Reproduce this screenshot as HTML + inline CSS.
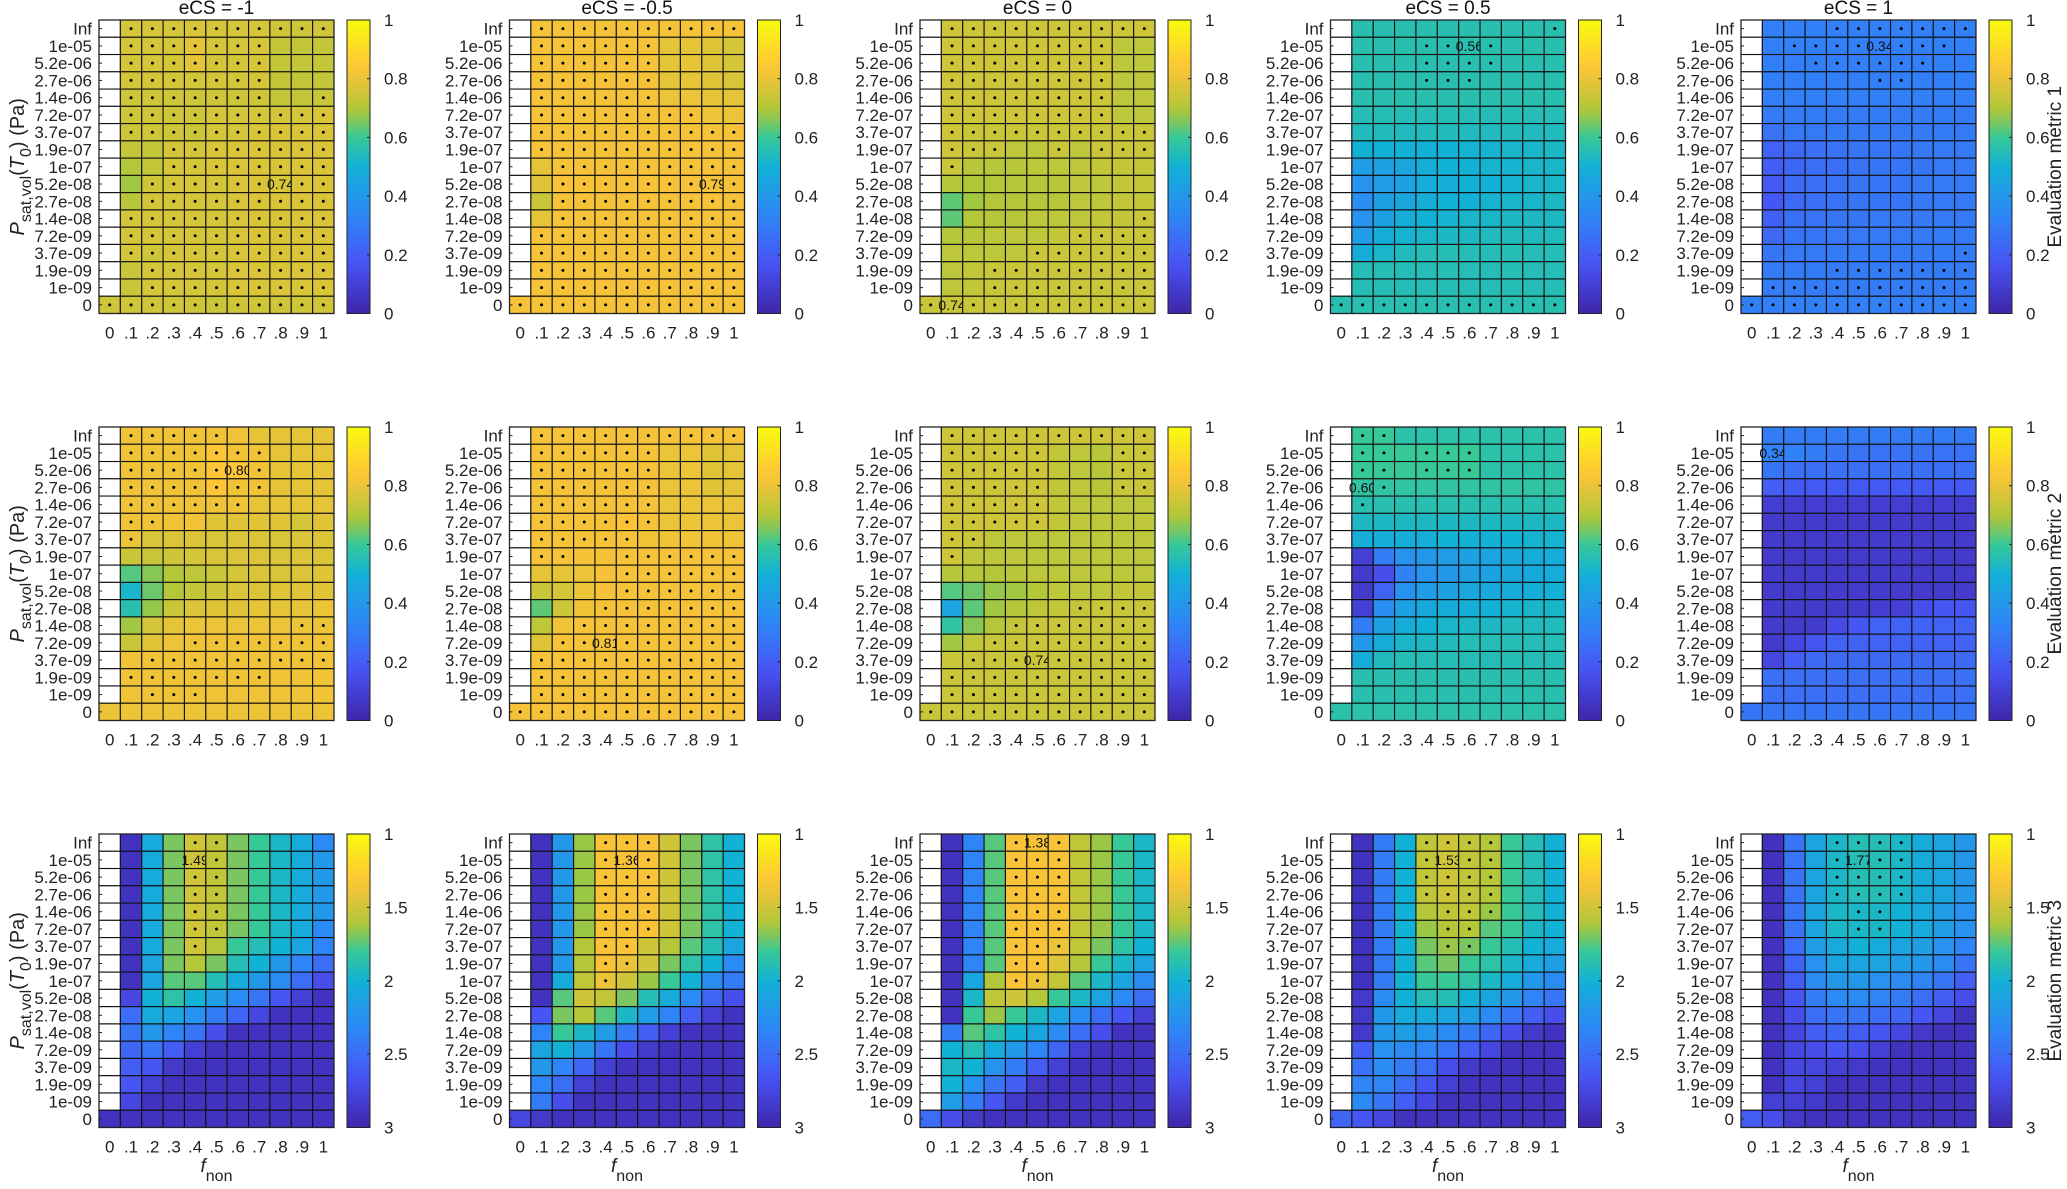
<!DOCTYPE html>
<html><head><meta charset="utf-8"><style>
html,body{margin:0;padding:0;background:#fff;}
svg{display:block;font-family:"Liberation Sans",sans-serif;}
</style></head><body>
<svg id="fig" width="2067" height="1189" viewBox="0 0 2067 1189" xmlns="http://www.w3.org/2000/svg"></svg>
<script>
const n=null;
const rowLabels=["Inf","1e-05","5.2e-06","2.7e-06","1.4e-06","7.2e-07","3.7e-07","1.9e-07","1e-07","5.2e-08","2.7e-08","1.4e-08","7.2e-09","3.7e-09","1.9e-09","1e-09","0"];
const colLabels=["0",".1",".2",".3",".4",".5",".6",".7",".8",".9","1"];
const titles=["eCS = -1","eCS = -0.5","eCS = 0","eCS = 0.5","eCS = 1"];
const metricNames=["Evaluation metric 1","Evaluation metric 2","Evaluation metric 3"];
const cbTicks12=[0,0.2,0.4,0.6,0.8,1];
const cbTicks3=[1,1.5,2,2.5,3];

const v11=[[n,.76,.76,.76,.77,.76,.76,.76,.75,.75,.75],[n,.76,.76,.76,.79,.76,.76,.76,.73,.73,.73],[n,.76,.76,.76,.79,.76,.76,.76,.73,.73,.73],[n,.76,.76,.76,.76,.76,.76,.76,.73,.73,.73],[n,.75,.75,.75,.75,.75,.75,.75,.73,.73,.74],[n,.75,.75,.75,.75,.76,.76,.76,.76,.76,.77],[n,.75,.75,.75,.74,.76,.76,.77,.77,.77,.77],[n,.73,.73,.76,.76,.77,.77,.77,.77,.77,.77],[n,.70,.73,.76,.76,.77,.77,.77,.77,.77,.77],[n,.68,.75,.76,.76,.76,.77,.77,.77,.77,.77],[n,.71,.76,.76,.76,.76,.77,.77,.77,.77,.77],[n,.76,.76,.76,.76,.76,.77,.77,.77,.77,.77],[n,.76,.76,.76,.76,.76,.77,.77,.77,.77,.77],[n,.76,.75,.76,.76,.76,.77,.77,.77,.77,.77],[n,.74,.76,.76,.76,.76,.77,.77,.77,.77,.77],[n,.74,.76,.76,.76,.76,.77,.77,.77,.77,.77],[.75,.75,.75,.75,.75,.74,.75,.75,.75,.75,.75]];
const v12=[[n,.82,.82,.82,.82,.82,.82,.82,.82,.82,.82],[n,.82,.82,.82,.82,.82,.82,.79,.79,.78,.76],[n,.82,.82,.82,.82,.82,.82,.79,.79,.78,.76],[n,.82,.82,.82,.82,.82,.82,.79,.79,.78,.77],[n,.82,.82,.82,.82,.82,.82,.80,.80,.79,.79],[n,.82,.82,.82,.82,.82,.82,.82,.82,.80,.80],[n,.82,.82,.82,.82,.82,.82,.82,.82,.82,.82],[n,.82,.82,.82,.82,.82,.82,.82,.82,.82,.82],[n,.79,.82,.82,.82,.82,.82,.82,.82,.82,.82],[n,.78,.82,.82,.82,.82,.82,.82,.82,.82,.82],[n,.74,.82,.82,.82,.82,.82,.82,.82,.82,.82],[n,.79,.82,.82,.82,.82,.82,.82,.82,.82,.82],[n,.82,.82,.82,.82,.82,.82,.82,.82,.82,.82],[n,.82,.82,.82,.82,.82,.82,.82,.82,.82,.82],[n,.82,.82,.82,.82,.82,.82,.82,.82,.82,.82],[n,.82,.82,.82,.82,.82,.82,.82,.82,.82,.82],[.82,.82,.82,.82,.82,.82,.82,.82,.82,.82,.82]];
const v13=[[n,.75,.75,.75,.75,.75,.75,.75,.75,.75,.75],[n,.75,.75,.75,.75,.75,.75,.75,.75,.72,.72],[n,.75,.75,.75,.75,.75,.75,.75,.75,.72,.72],[n,.75,.75,.75,.75,.75,.75,.75,.75,.72,.72],[n,.75,.75,.75,.75,.75,.75,.75,.75,.72,.72],[n,.75,.75,.75,.75,.75,.75,.75,.75,.72,.72],[n,.75,.74,.74,.74,.74,.74,.74,.74,.74,.74],[n,.75,.74,.74,.72,.72,.74,.72,.74,.74,.74],[n,.74,.71,.71,.71,.72,.72,.72,.73,.73,.73],[n,.70,.69,.70,.70,.71,.71,.72,.72,.73,.73],[n,.63,.68,.70,.70,.71,.71,.72,.72,.73,.73],[n,.63,.70,.71,.71,.72,.72,.72,.73,.73,.74],[n,.70,.71,.72,.72,.72,.73,.74,.74,.74,.74],[n,.72,.72,.72,.72,.74,.74,.74,.74,.74,.74],[n,.72,.73,.74,.74,.74,.74,.74,.74,.74,.74],[n,.72,.73,.74,.74,.74,.74,.74,.74,.74,.74],[.74,.74,.74,.74,.74,.74,.74,.74,.74,.74,.74]];
const v14=[[n,.56,.56,.56,.56,.56,.56,.56,.56,.56,.56],[n,.56,.56,.56,.56,.56,.56,.56,.56,.56,.56],[n,.56,.56,.56,.56,.56,.56,.56,.56,.56,.56],[n,.56,.56,.56,.56,.56,.56,.56,.56,.56,.56],[n,.56,.56,.56,.56,.56,.56,.56,.56,.56,.56],[n,.55,.55,.55,.55,.55,.55,.55,.55,.55,.55],[n,.54,.54,.54,.54,.54,.54,.54,.54,.54,.54],[n,.50,.50,.50,.50,.50,.51,.51,.52,.52,.53],[n,.42,.44,.46,.49,.50,.50,.51,.51,.52,.52],[n,.38,.42,.44,.48,.49,.50,.50,.51,.52,.52],[n,.36,.43,.46,.49,.50,.50,.51,.52,.52,.53],[n,.38,.44,.48,.50,.51,.52,.52,.53,.53,.53],[n,.42,.48,.51,.52,.53,.53,.54,.54,.54,.54],[n,.48,.52,.54,.55,.55,.55,.55,.55,.55,.55],[n,.55,.55,.55,.55,.55,.55,.55,.55,.55,.55],[n,.55,.55,.55,.55,.55,.55,.55,.55,.55,.55],[.56,.56,.56,.56,.56,.56,.56,.56,.56,.56,.56]];
const v15=[[n,.31,.31,.31,.31,.31,.31,.31,.31,.31,.31],[n,.31,.31,.31,.31,.31,.31,.31,.31,.31,.31],[n,.31,.31,.31,.31,.31,.31,.31,.31,.31,.31],[n,.31,.31,.31,.31,.31,.31,.31,.31,.31,.31],[n,.31,.31,.31,.31,.31,.31,.31,.31,.31,.31],[n,.30,.30,.30,.30,.30,.30,.30,.30,.30,.30],[n,.27,.29,.29,.30,.30,.30,.30,.30,.30,.30],[n,.22,.24,.26,.27,.28,.28,.28,.29,.29,.29],[n,.20,.23,.25,.26,.27,.28,.28,.28,.29,.29],[n,.19,.24,.25,.27,.28,.28,.28,.29,.29,.29],[n,.18,.24,.26,.27,.28,.28,.28,.29,.29,.29],[n,.21,.26,.27,.28,.28,.29,.29,.29,.29,.29],[n,.24,.28,.28,.29,.29,.29,.29,.30,.30,.30],[n,.28,.29,.29,.30,.30,.30,.30,.30,.30,.30],[n,.30,.30,.30,.30,.30,.30,.30,.30,.30,.30],[n,.30,.30,.30,.30,.30,.30,.30,.30,.30,.30],[.31,.31,.31,.31,.31,.31,.31,.31,.31,.31,.31]];

const v21=[[n,.81,.81,.81,.81,.81,.81,.79,.79,.79,.79],[n,.81,.81,.81,.81,.84,.81,.81,.79,.79,.79],[n,.81,.81,.81,.81,.84,.84,.81,.79,.79,.79],[n,.81,.81,.81,.81,.84,.81,.81,.79,.79,.79],[n,.81,.81,.81,.81,.81,.81,.79,.79,.79,.79],[n,.81,.81,.81,.81,.78,.78,.78,.78,.76,.78],[n,.80,.77,.77,.77,.77,.77,.77,.77,.77,.77],[n,.74,.74,.75,.76,.77,.77,.77,.77,.77,.77],[n,.62,.66,.70,.72,.74,.76,.77,.77,.77,.78],[n,.52,.64,.70,.73,.75,.77,.77,.78,.78,.78],[n,.56,.67,.74,.77,.78,.78,.79,.79,.79,.80],[n,.68,.76,.79,.80,.80,.80,.80,.80,.80,.80],[n,.74,.78,.80,.81,.81,.81,.81,.81,.81,.81],[n,.81,.81,.81,.81,.81,.81,.81,.81,.81,.81],[n,.81,.81,.81,.81,.81,.81,.81,.81,.81,.81],[n,.81,.81,.81,.81,.81,.81,.81,.81,.81,.81],[.80,.80,.80,.80,.80,.80,.80,.80,.80,.80,.80]];
const v22=[[n,.82,.82,.82,.82,.82,.82,.82,.82,.82,.82],[n,.82,.82,.82,.82,.82,.82,.80,.80,.78,.79],[n,.82,.82,.82,.82,.82,.82,.80,.80,.78,.79],[n,.82,.82,.82,.82,.82,.82,.80,.80,.78,.79],[n,.82,.82,.82,.82,.82,.82,.80,.80,.80,.80],[n,.82,.82,.82,.82,.83,.82,.80,.80,.80,.80],[n,.82,.82,.82,.82,.82,.81,.81,.81,.81,.81],[n,.82,.82,.82,.82,.82,.82,.82,.82,.82,.82],[n,.79,.79,.80,.82,.82,.82,.82,.82,.82,.82],[n,.74,.76,.80,.82,.82,.82,.82,.82,.82,.82],[n,.63,.75,.81,.82,.82,.82,.82,.82,.82,.82],[n,.72,.81,.82,.82,.82,.82,.82,.82,.82,.82],[n,.78,.82,.82,.82,.82,.82,.82,.82,.82,.82],[n,.82,.82,.82,.82,.82,.82,.82,.82,.82,.82],[n,.82,.82,.82,.82,.82,.82,.82,.82,.82,.82],[n,.82,.82,.82,.82,.82,.82,.82,.82,.82,.82],[.82,.82,.82,.82,.82,.82,.82,.82,.82,.82,.82]];
const v23=[[n,.75,.75,.75,.75,.75,.75,.75,.75,.75,.75],[n,.75,.75,.75,.75,.75,.73,.72,.71,.74,.74],[n,.75,.75,.75,.75,.75,.73,.72,.71,.74,.74],[n,.75,.75,.75,.75,.75,.73,.72,.71,.74,.74],[n,.75,.75,.75,.75,.75,.73,.72,.72,.72,.72],[n,.75,.75,.75,.75,.75,.73,.72,.72,.72,.72],[n,.75,.74,.72,.72,.72,.72,.72,.72,.72,.72],[n,.75,.72,.72,.72,.72,.72,.72,.72,.72,.72],[n,.70,.70,.70,.71,.72,.72,.72,.72,.72,.72],[n,.62,.64,.67,.68,.70,.72,.72,.72,.73,.73],[n,.45,.63,.68,.70,.72,.73,.73,.74,.74,.74],[n,.58,.66,.70,.73,.74,.74,.74,.74,.74,.74],[n,.68,.72,.74,.74,.74,.74,.74,.74,.74,.74],[n,.74,.74,.74,.74,.74,.74,.74,.74,.74,.74],[n,.74,.74,.74,.74,.74,.74,.74,.74,.74,.74],[n,.74,.74,.74,.74,.74,.74,.74,.74,.74,.74],[.74,.74,.74,.74,.74,.74,.74,.74,.74,.74,.74]];
const v24=[[n,.60,.60,.57,.57,.57,.57,.57,.57,.57,.57],[n,.60,.60,.60,.60,.60,.60,.57,.57,.57,.57],[n,.60,.60,.60,.60,.60,.60,.57,.57,.57,.57],[n,.58,.58,.58,.58,.58,.58,.58,.58,.58,.58],[n,.56,.56,.56,.56,.56,.56,.56,.56,.56,.56],[n,.53,.53,.53,.53,.53,.53,.53,.53,.53,.53],[n,.49,.49,.49,.49,.50,.50,.50,.50,.51,.51],[n,.10,.30,.38,.40,.42,.44,.45,.47,.48,.48],[n,.08,.15,.32,.38,.40,.43,.44,.46,.47,.48],[n,.08,.22,.38,.42,.44,.46,.47,.48,.49,.50],[n,.10,.36,.44,.47,.48,.49,.50,.51,.52,.52],[n,.30,.44,.48,.50,.52,.53,.53,.54,.54,.54],[n,.40,.48,.52,.53,.54,.55,.55,.55,.55,.55],[n,.48,.54,.55,.55,.55,.55,.55,.55,.55,.55],[n,.56,.56,.56,.56,.56,.56,.56,.56,.56,.56],[n,.56,.56,.56,.56,.56,.56,.56,.56,.56,.56],[.57,.57,.57,.57,.57,.57,.57,.57,.57,.57,.57]];
const v25=[[n,.30,.30,.30,.30,.30,.30,.30,.30,.30,.30],[n,.32,.32,.30,.28,.27,.27,.27,.27,.27,.27],[n,.28,.26,.26,.26,.26,.26,.26,.26,.26,.26],[n,.20,.19,.19,.19,.19,.19,.19,.19,.19,.19],[n,.09,.09,.09,.09,.09,.09,.09,.09,.09,.09],[n,.08,.08,.08,.08,.08,.08,.08,.08,.08,.08],[n,.08,.08,.08,.08,.08,.08,.08,.08,.08,.08],[n,.08,.08,.08,.08,.08,.08,.08,.08,.08,.08],[n,.08,.08,.08,.08,.08,.08,.08,.08,.08,.08],[n,.08,.08,.08,.08,.08,.08,.08,.08,.08,.08],[n,.08,.08,.08,.08,.08,.09,.10,.15,.18,.18],[n,.08,.08,.08,.14,.18,.22,.22,.22,.22,.22],[n,.08,.12,.18,.22,.22,.22,.22,.22,.22,.22],[n,.12,.20,.24,.24,.24,.24,.24,.24,.24,.24],[n,.26,.26,.26,.26,.26,.26,.26,.26,.26,.26],[n,.26,.26,.26,.26,.26,.26,.26,.26,.26,.26],[.28,.28,.28,.28,.28,.28,.28,.28,.28,.28,.28]];

const v31=[[n,2.9,2.05,1.7,1.5,1.55,1.7,1.8,1.95,2.05,2.3],[n,2.9,2.05,1.7,1.5,1.55,1.7,1.8,1.95,2.05,2.2],[n,2.9,2.05,1.7,1.5,1.55,1.7,1.8,1.95,2.05,2.2],[n,2.9,2.05,1.7,1.5,1.55,1.7,1.8,1.95,2.05,2.2],[n,2.9,2.05,1.7,1.5,1.55,1.7,1.8,1.95,2.05,2.2],[n,2.9,2.05,1.7,1.5,1.55,1.7,1.8,1.95,2.05,2.3],[n,2.9,2.05,1.7,1.5,1.6,1.8,1.9,2.0,2.1,2.35],[n,2.9,2.1,1.7,1.6,1.7,1.9,2.0,2.2,2.35,2.5],[n,2.9,2.1,1.75,1.75,1.9,2.05,2.2,2.3,2.5,2.7],[n,2.75,2.0,1.85,2.0,2.15,2.3,2.45,2.65,2.8,2.9],[n,2.5,2.05,2.1,2.25,2.4,2.55,2.75,2.9,2.9,2.9],[n,2.45,2.2,2.35,2.45,2.7,2.9,2.9,2.9,2.9,2.9],[n,2.55,2.45,2.6,2.8,2.9,2.9,2.9,2.9,2.9,2.9],[n,2.6,2.65,2.85,2.9,2.9,2.9,2.9,2.9,2.9,2.9],[n,2.65,2.8,2.9,2.9,2.9,2.9,2.9,2.9,2.9,2.9],[n,2.75,2.9,2.9,2.9,2.9,2.9,2.9,2.9,2.9,2.9],[2.9,2.9,2.9,2.9,2.9,2.9,2.9,2.9,2.9,2.9,2.9]];
const v32=[[n,2.9,2.2,1.65,1.35,1.35,1.35,1.5,1.7,1.85,2.0],[n,2.9,2.2,1.65,1.35,1.35,1.35,1.5,1.7,1.85,2.0],[n,2.9,2.2,1.65,1.35,1.35,1.35,1.5,1.7,1.85,2.0],[n,2.9,2.2,1.65,1.35,1.35,1.35,1.5,1.7,1.85,2.0],[n,2.9,2.2,1.65,1.35,1.35,1.35,1.5,1.7,1.85,2.0],[n,2.9,2.2,1.65,1.35,1.35,1.35,1.5,1.7,1.85,2.0],[n,2.9,2.2,1.6,1.35,1.35,1.5,1.6,1.75,1.9,2.1],[n,2.9,2.2,1.6,1.35,1.4,1.5,1.7,1.85,2.0,2.3],[n,2.9,2.05,1.55,1.4,1.5,1.65,1.8,2.0,2.3,2.4],[n,2.9,1.75,1.5,1.55,1.7,1.9,2.05,2.3,2.55,2.7],[n,2.65,1.7,1.6,1.75,1.95,2.15,2.35,2.6,2.8,2.9],[n,2.35,1.8,1.95,2.15,2.4,2.6,2.8,2.9,2.9,2.9],[n,2.1,2.0,2.2,2.45,2.7,2.85,2.9,2.9,2.9,2.9],[n,2.2,2.35,2.55,2.8,2.9,2.9,2.9,2.9,2.9,2.9],[n,2.35,2.5,2.8,2.9,2.9,2.9,2.9,2.9,2.9,2.9],[n,2.4,2.7,2.9,2.9,2.9,2.9,2.9,2.9,2.9,2.9],[2.75,2.85,2.9,2.9,2.9,2.9,2.9,2.9,2.9,2.9,2.9]];
const v33=[[n,2.9,2.35,1.75,1.35,1.35,1.35,1.55,1.65,1.8,1.95],[n,2.9,2.35,1.75,1.35,1.35,1.35,1.55,1.65,1.8,1.95],[n,2.9,2.35,1.75,1.35,1.35,1.35,1.55,1.65,1.8,1.95],[n,2.9,2.35,1.75,1.35,1.35,1.35,1.55,1.65,1.8,1.95],[n,2.9,2.35,1.75,1.35,1.35,1.35,1.55,1.65,1.8,1.95],[n,2.9,2.35,1.75,1.35,1.35,1.35,1.55,1.65,1.8,1.95],[n,2.9,2.35,1.75,1.35,1.35,1.4,1.55,1.7,1.85,2.0],[n,2.9,2.35,1.75,1.35,1.35,1.45,1.6,1.8,1.95,2.1],[n,2.9,2.1,1.6,1.35,1.4,1.55,1.75,1.95,2.1,2.3],[n,2.9,1.95,1.55,1.5,1.6,1.8,1.95,2.1,2.3,2.5],[n,2.9,1.8,1.65,1.8,1.95,2.1,2.3,2.5,2.65,2.8],[n,2.4,1.75,1.85,2.0,2.1,2.3,2.5,2.7,2.9,2.9],[n,2.0,1.9,2.05,2.2,2.35,2.55,2.8,2.9,2.9,2.9],[n,1.95,2.0,2.25,2.4,2.6,2.8,2.9,2.9,2.9,2.9],[n,2.0,2.25,2.45,2.6,2.85,2.9,2.9,2.9,2.9,2.9],[n,2.15,2.4,2.65,2.85,2.9,2.9,2.9,2.9,2.9,2.9],[2.5,2.7,2.85,2.9,2.9,2.9,2.9,2.9,2.9,2.9,2.9]];
const v34=[[n,2.9,2.4,2.0,1.55,1.5,1.55,1.6,1.8,1.9,2.0],[n,2.9,2.4,2.0,1.55,1.5,1.55,1.6,1.8,1.9,2.0],[n,2.9,2.4,2.0,1.55,1.5,1.55,1.6,1.8,1.9,2.0],[n,2.9,2.4,2.0,1.55,1.5,1.55,1.6,1.8,1.9,2.0],[n,2.9,2.4,2.0,1.6,1.55,1.55,1.65,1.8,1.9,2.0],[n,2.9,2.4,2.0,1.65,1.6,1.6,1.75,1.8,1.95,2.0],[n,2.9,2.4,2.0,1.7,1.65,1.7,1.8,1.9,2.0,2.05],[n,2.9,2.4,2.0,1.75,1.7,1.8,1.85,1.95,2.05,2.15],[n,2.9,2.4,2.0,1.8,1.8,1.85,1.95,2.05,2.2,2.3],[n,2.85,2.3,2.0,1.9,1.9,2.0,2.1,2.2,2.35,2.45],[n,2.85,2.2,2.05,2.05,2.1,2.15,2.3,2.45,2.6,2.7],[n,2.85,2.2,2.15,2.2,2.3,2.4,2.55,2.7,2.85,2.9],[n,2.6,2.25,2.3,2.35,2.45,2.6,2.75,2.9,2.9,2.9],[n,2.45,2.3,2.4,2.5,2.7,2.85,2.9,2.9,2.9,2.9],[n,2.35,2.35,2.5,2.65,2.8,2.9,2.9,2.9,2.9,2.9],[n,2.3,2.45,2.6,2.75,2.9,2.9,2.9,2.9,2.9,2.9],[2.55,2.65,2.75,2.9,2.9,2.9,2.9,2.9,2.9,2.9,2.9]];
const v35=[[n,2.9,2.45,2.1,1.95,1.9,1.9,1.95,2.05,2.1,2.2],[n,2.9,2.45,2.1,1.95,1.9,1.9,1.95,2.05,2.1,2.2],[n,2.9,2.45,2.1,1.95,1.9,1.9,1.95,2.05,2.1,2.2],[n,2.9,2.45,2.1,1.95,1.9,1.9,1.95,2.05,2.1,2.2],[n,2.9,2.45,2.1,1.95,1.95,1.95,2.0,2.05,2.15,2.25],[n,2.9,2.45,2.1,1.95,1.95,1.95,2.0,2.05,2.15,2.25],[n,2.9,2.5,2.15,2.05,2.0,2.05,2.1,2.15,2.25,2.35],[n,2.9,2.55,2.25,2.1,2.1,2.1,2.15,2.2,2.3,2.45],[n,2.9,2.6,2.3,2.2,2.2,2.25,2.3,2.35,2.45,2.6],[n,2.9,2.65,2.4,2.3,2.3,2.35,2.4,2.5,2.6,2.7],[n,2.9,2.7,2.5,2.45,2.45,2.5,2.55,2.65,2.75,2.9],[n,2.9,2.75,2.6,2.55,2.6,2.65,2.75,2.85,2.9,2.9],[n,2.9,2.75,2.7,2.65,2.7,2.8,2.9,2.9,2.9,2.9],[n,2.9,2.75,2.75,2.8,2.85,2.9,2.9,2.9,2.9,2.9],[n,2.9,2.75,2.8,2.9,2.9,2.9,2.9,2.9,2.9,2.9],[n,2.8,2.8,2.85,2.9,2.9,2.9,2.9,2.9,2.9,2.9],[2.6,2.7,2.85,2.9,2.9,2.9,2.9,2.9,2.9,2.9,2.9]];

const N="-----------";
const d11=["-..........","-.......---","-.......---","-.......---","-.......--.","-..........","-..........","---........","---........","--......L..","--.........","-..........","-..........","-..........","--.........","--.........","..........."];
const d12=["-..........","-......----","-......----","-......----","-......----","-........--","-..........","-..........","--.........","--.......L.","--.........","--.........","-..........","-..........","-..........","-..........","..........."];
const d13=["-..........","-........--","-........--","-........--","-........--","-........--","-..........","-...--.-...","-.---------",N,N,"----------.","-------....","-----......","---........","---........",".L........."];
const d14=["----------.","----..L.---","----....---","----...----",N,N,N,N,N,N,N,N,N,N,N,N,"..........."];
const d15=["----.......","--....L...-","---......--","------..---",N,N,N,N,N,N,N,N,N,"----------.","----.......","-..........","..........."];
const d21=["-.....-----","-.......---","-.....L.---","-.......---","-......----","-..--------","-.---------",N,N,N,N,"---------..","----.......","--.........","-.......---","--...------",N];
const d22=["-..........","-......----","-......----","-......----","-......----","-......----","-.....-----","-..--......","-----......","-----......","----.......","---........","--..L......","-..........","-..........","-..........","..........."];
const d23=["-..........","-.....---..","-.....---..","-.....---..","-.....-----","-.....-----","-..--------","-.---------",N,N,"-------....","----.......","---........","--...L.....","-..........","-..........","..........."];
const d24=["-..--------","-..-...----","-..-...----","-L.--------","-.---------",N,N,N,N,N,N,N,N,N,N,N,N];
const d25=[N,"-L---------",N,N,N,N,N,N,N,N,N,N,N,N,N,N,N];
const d31=["----..-----","----L.-----","----..-----","----..-----","----..-----","----..-----","----.------",N,N,N,N,N,N,N,N,N,N];
const d32=["----...----","----.L.----","----...----","----...----","----...----","----...----","----..-----","----..-----","----.------",N,N,N,N,N,N,N,N];
const d33=["----.L.----","----...----","----...----","----...----","----...----","----...----","----...----","----..-----","----..-----",N,N,N,N,N,N,N,N];
const d34=["----....---","----.L..---","----....---","----....---","-----...---","-----..----","-----..----",N,N,N,N,N,N,N,N,N,N];
const d35=["----....---","----.L..---","----....---","----....---","-----..----","-----..----",N,N,N,N,N,N,N,N,N,N,N];

const labels=[["0.74","0.79","0.74","0.56","0.34"],["0.80","0.81","0.74","0.60","0.34"],["1.49","1.36","1.38","1.53","1.77"]];
const values=[[v11,v12,v13,v14,v15],[v21,v22,v23,v24,v25],[v31,v32,v33,v34,v35]];
const dots=[[d11,d12,d13,d14,d15],[d21,d22,d23,d24,d25],[d31,d32,d33,d34,d35]];

const NS="http://www.w3.org/2000/svg";
const svg=document.getElementById('fig');
const PAR=[[62,38,168],[72,82,244],[46,135,247],[18,177,214],[55,200,151],[171,199,57],[254,195,56],[249,251,14]];
const PT=[0,1/6,2/6,0.5,0.6,4/6+0.02,5/6,1];
function parula(t){t=Math.max(0,Math.min(1,t));let i=0;while(i<PT.length-2&&t>PT[i+1])i++;const f=(t-PT[i])/(PT[i+1]-PT[i]);const a=PAR[i],b=PAR[i+1];return `rgb(${Math.round(a[0]+(b[0]-a[0])*f)},${Math.round(a[1]+(b[1]-a[1])*f)},${Math.round(a[2]+(b[2]-a[2])*f)})`;}
function el(tag,attrs,parent){const e=document.createElementNS(NS,tag);for(const k in attrs)e.setAttribute(k,attrs[k]);(parent||svg).appendChild(e);return e;}

const AX=[99,509.5,920,1330.5,1741], AY=[20,427,834], AW=235, AH=293.5;
const nR=rowLabels.length, nC=colLabels.length, cw=AW/nC, ch=AH/nR;
function xPos(c,x0){return x0+c*cw;}
function yPos(r,y0){return y0+r*ch;}
function norm(v,row){return row===2?(3-v)/2:v;}

for(let pr=0;pr<3;pr++){
 for(let pc=0;pc<5;pc++){
  const x0=AX[pc], y0=AY[pr];
  const g=el('g',{});
  
  
  const vals=values[pr][pc], dm=dots[pr][pc];
  for(let r=0;r<nR;r++){for(let c=0;c<nC;c++){
    const v=vals[r][c];
    const rc=el('rect',{x:xPos(c,x0),y:yPos(r,y0),width:cw,height:ch,fill:v===null?'#fff':parula(norm(v,pr)),stroke:'#111','stroke-width':1.1},g);
    
    
    const m=dm[r][c], cx=xPos(c+0.5,x0), cy=yPos(r+0.5,y0);
    if(m==='.'){const dt=el('circle',{cx:cx,cy:cy,r:1.5,fill:'#000'},g);
      
      }
    if(m==='L'){const lt=el('text',{x:cx,y:cy+5,'text-anchor':'middle','font-size':14,fill:'#111'},g);lt.textContent=labels[pr][pc];
      
      }
  }}
  el('rect',{x:x0,y:y0,width:AW,height:AH,fill:'none',stroke:'#222','stroke-width':1.2},g);
  for(let r=0;r<nR;r++){
    el('line',{x1:x0,x2:x0+3,y1:yPos(r+0.5,y0),y2:yPos(r+0.5,y0),stroke:'#222'},g);
    const t=el('text',{x:x0-7,y:yPos(r+0.5,y0)+6,'text-anchor':'end','font-size':17,fill:'#222'},g);t.textContent=rowLabels[r];
    
    
  }
  for(let c=0;c<nC;c++){
    const t=el('text',{x:xPos(c+0.5,x0),y:y0+AH+25,'text-anchor':'middle','font-size':17,fill:'#222'},g);t.textContent=colLabels[c];
    
    
  }
  const cbx=x0+248, cbw=23;
  const defs=el('defs',{},g);
  const grad=el('linearGradient',{id:'gr'+pr+pc,x1:0,y1:1,x2:0,y2:0},defs);
  for(let k=0;k<=20;k++){el('stop',{offset:k/20,'stop-color':parula(k/20)},grad);}
  const cb=el('rect',{x:cbx,y:y0,width:cbw,height:AH,fill:'url(#gr'+pr+pc+')',stroke:'#222','stroke-width':1},g);
  
  
  const ticks=pr===2?cbTicks3:cbTicks12;
  ticks.forEach(tv=>{
    const ty=pr===2?y0+(tv-1)/2*AH:y0+(1-tv)*AH;
    el('line',{x1:cbx+cbw-3,x2:cbx+cbw,y1:ty,y2:ty,stroke:'#222'},g);
    const t=el('text',{x:cbx+cbw+14,y:ty+6,'font-size':17,fill:'#222'},g);t.textContent=String(tv);
    
    
  });
  if(pr===0){const t=el('text',{x:x0+AW/2,y:14,'text-anchor':'middle','font-size':19,fill:'#111'},g);t.textContent=titles[pc];
    
    }
  if(pr===2){const t=el('text',{x:x0+AW/2,y:1172,'text-anchor':'middle','font-size':19,fill:'#222'},g);
    const a=el('tspan',{'font-style':'italic'},t);a.textContent='f';
    const b=el('tspan',{dy:9,'font-size':16},t);b.textContent='non';
    
    }
  if(pc===0){const cy=y0+AH/2;const t=el('text',{x:0,y:0,'text-anchor':'middle','font-size':20,fill:'#222',transform:`translate(24,${cy}) rotate(-90)`},g);
    const a=el('tspan',{'font-style':'italic'},t);a.textContent='P';
    const b=el('tspan',{dy:7,'font-size':16},t);b.textContent='sat,vol';
    const c2=el('tspan',{dy:-7},t);c2.textContent='(';
    const d=el('tspan',{'font-style':'italic'},t);d.textContent='T';
    const e2=el('tspan',{dy:7,'font-size':16},t);e2.textContent='0';
    const f2=el('tspan',{dy:-7},t);f2.textContent=') (Pa)';
    
    }
  if(pc===4){const cy=y0+AH/2;const t=el('text',{x:0,y:0,'text-anchor':'middle','font-size':19,fill:'#222',transform:`translate(2061,${cy}) rotate(-90)`},g);t.textContent=metricNames[pr];
    
    }
 }
}
</script>
</body></html>
